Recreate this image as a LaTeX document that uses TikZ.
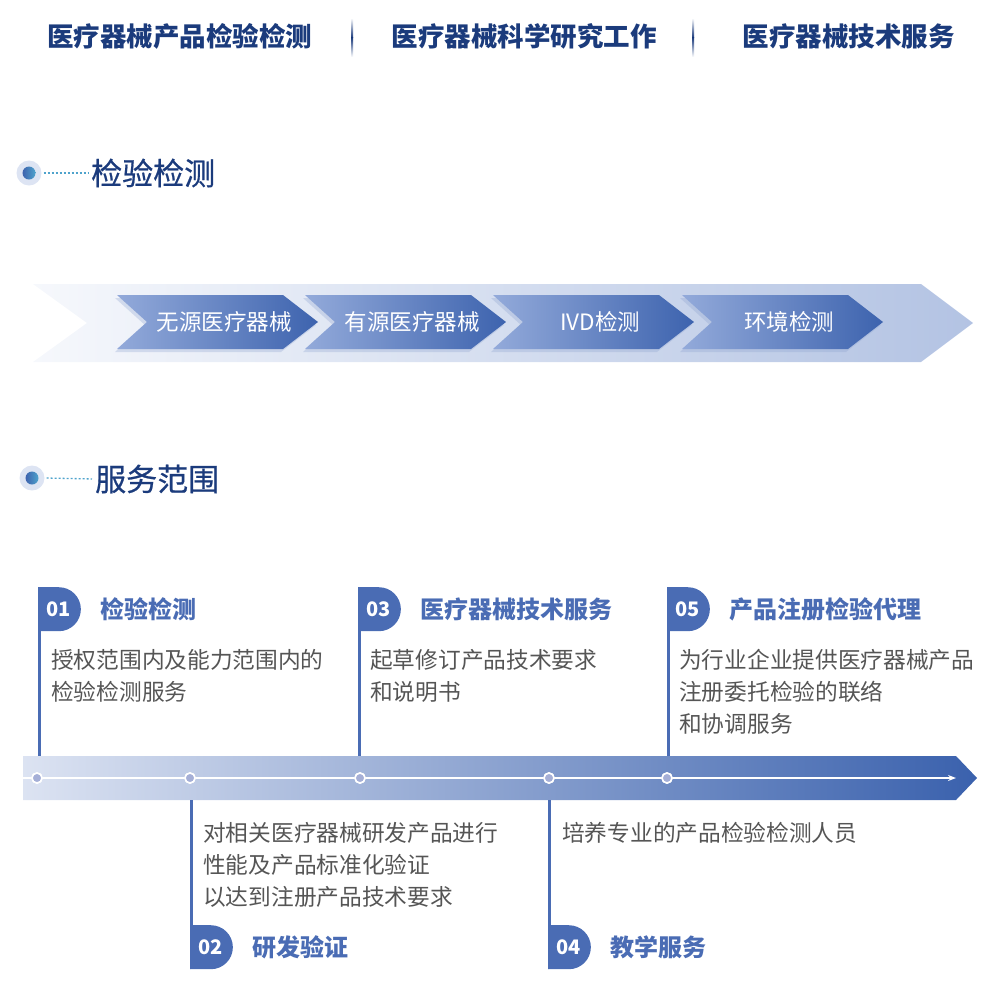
\documentclass[tikz,border=0pt]{standalone}
\usepackage{fontspec}
\setmainfont{Noto Sans CJK SC}
\newfontfamily\medfont{Noto Sans CJK SC}[FakeBold=0.6]
\usepackage{tikz}
\usetikzlibrary{positioning, shapes.misc, shadows, arrows.meta}
\usepackage{xcolor}
\pgfdeclarelayer{bg}
\pgfsetlayers{bg,main}

\definecolor{navy}{HTML}{1B3B7C}
\definecolor{cardblue}{HTML}{4A6CB4}
\definecolor{desc}{HTML}{555555}
\definecolor{chevl}{HTML}{93AADA}
\definecolor{chevr}{HTML}{3D63AE}
\definecolor{bandl}{HTML}{F6F8FC}
\definecolor{bandr}{HTML}{B3C3E3}
\definecolor{linel}{HTML}{DCE3F2}
\definecolor{linem}{HTML}{8E9BCD}
\definecolor{liner}{HTML}{3A61AD}
\definecolor{ringc}{HTML}{DDE4F3}
\definecolor{dotc}{HTML}{4FA3CC}

\begin{document}
\begin{tikzpicture}[x=1pt, y=-1pt,
  headtext/.style={font=\fontsize{26.5}{30}\selectfont\bfseries, text=navy, inner sep=0pt},
  sectitle/.style={font=\fontsize{31}{36}\selectfont\medfont, text=navy, inner sep=0pt, anchor=west},
  chevtext/.style={font=\fontsize{22.5}{26}\selectfont, text=white, inner sep=0pt},
  chev/.style={left color=chevl, right color=chevr, drop shadow={shadow xshift=-2pt, shadow yshift=-3pt, opacity=.3, fill=chevr!60!white}},
  badge/.style={rounded rectangle, rounded rectangle west arc=none, fill=cardblue, text=white, font=\fontsize{20}{24}\selectfont\bfseries, minimum width=42pt, minimum height=44pt, inner sep=0pt, anchor=north west},
  cardtitle/.style={font=\fontsize{24}{28}\selectfont\bfseries, text=cardblue, inner sep=0pt},
  cardtext/.style={font=\fontsize{22.7}{32}\selectfont, text=desc, align=left, inner sep=0pt, anchor=north west},
  stem/.style={draw=cardblue, line width=2.6pt},
  dotline/.style={draw=dotc, line width=1.3pt, dash pattern=on 2pt off 2pt, shorten <=2pt, shorten >=3pt},
  tldot/.style={circle, fill=linem!80!white, draw=white, line width=1.6pt, minimum size=10pt, inner sep=0pt}]
%

\useasboundingbox (0,0) rectangle (1000,986);

%%% HEADER
\node [headtext] (head-1) at (179.5,36) {医疗器械产品检验检测};
\node [headtext] (head-2) at (524,36) {医疗器械科学研究工作};
\node [headtext] (head-3) at (848.5,36) {医疗器械技术服务};
\foreach \x in {352,693}
{
\shade [top color=white, bottom color=navy] (\x-1,18) rectangle (\x+1,37.5);
\shade [top color=navy, bottom color=white] (\x-1,37.5) rectangle (\x+1,57);
}

%%% SECTION: TESTING
\node [circle, fill=ringc, minimum size=25pt, inner sep=0pt] (sec1-ring) at (29,173) {};
\shade [left color=chevr, right color=dotc] (sec1-ring.center) circle (6.5pt);
\node [sectitle] (sec1-title) at (91,173) {检验检测};
\draw [dotline] (sec1-ring.east) -- (sec1-title.west);

%%% CHEVRONS
\path [left color=bandl, right color=bandr] (33,284) -- (921,284) -- (973,323) -- (921,362) -- (33,362) -- (87,323) -- cycle;
\foreach \x/\t [count=\i] in {117/无源医疗器械, 305/有源医疗器械, 493/IVD检测, 682/环境检测}
{
\path [chev] (\x,295) -- ++(166,0) -- ++(35,27) -- ++(-35,27) -- ++(-166,0) -- ++(30,-27) -- cycle;
\node [chevtext] (chev-\i) at (\x+107,322) {\t};
}

%%% SECTION: SCOPE
\node [circle, fill=ringc, minimum size=25pt, inner sep=0pt] (sec2-ring) at (32,478) {};
\shade [left color=chevr, right color=dotc] (sec2-ring.center) circle (6.5pt);
\node [sectitle] (sec2-title) at (95,479) {服务范围};
\draw [dotline] (sec2-ring.east) -- (sec2-title.west);

%%% TIMELINE
\path [left color=linel, middle color=linem, right color=liner] (23,756) -- (956,756) -- (977,778) -- (956,800) -- (23,800) -- cycle;
\coordinate (tl-top) at (0,756);
\coordinate (tl-bot) at (0,800);
\coordinate (tl-start) at (23,778);
\coordinate (tl-end) at (956,778);
\node [tldot] (dot-1) at (37,778) {};
\node [tldot] (dot-2) at (190,778) {};
\node [tldot] (dot-3) at (360,778) {};
\node [tldot] (dot-4) at (549,778) {};
\node [tldot] (dot-5) at (667,778) {};
\draw [white, line width=1.2pt, -{Stealth[length=8pt, width=6pt]}] (tl-start) -- (dot-1) -- (dot-2) -- (dot-3) -- (dot-4) -- (dot-5) -- (tl-end);
\foreach \d in {1,...,5} \node [tldot] at (dot-\d) {};

%%% CARD 01
\node [badge] (badge-1) at (38,587) {01};
\node [cardtitle, right=19pt of badge-1] (title-1) {检验检测};
\node [cardtext] (text-1) at (51,649) {授权范围内及能力范围内的\\检验检测服务};
\draw [stem] ([xshift=1.3pt]badge-1.north west) -- ([xshift=1.3pt]badge-1.north west |- tl-top);

%%% CARD 03
\node [badge] (badge-3) at (358,587) {03};
\node [cardtitle, right=19pt of badge-3] (title-3) {医疗器械技术服务};
\node [cardtext] (text-3) at (370,649) {起草修订产品技术要求\\和说明书};
\draw [stem] ([xshift=1.3pt]badge-3.north west) -- ([xshift=1.3pt]badge-3.north west |- tl-top);

%%% CARD 05
\node [badge] (badge-5) at (667,587) {05};
\node [cardtitle, right=19pt of badge-5] (title-5) {产品注册检验代理};
\node [cardtext] (text-5) at (679,649) {为行业企业提供医疗器械产品\\注册委托检验的联络\\和协调服务};
\draw [stem] ([xshift=1.3pt]badge-5.north west) -- ([xshift=1.3pt]badge-5.north west |- tl-top);

%%% CARD 02
\node [badge] (badge-2) at (190,925) {02};
\node [cardtitle, right=19pt of badge-2] (title-2) {研发验证};
\node [cardtext] (text-2) at (203,822) {对相关医疗器械研发产品进行\\性能及产品标准化验证\\以达到注册产品技术要求};
\draw [stem] ([xshift=1.3pt]badge-2.south west) -- ([xshift=1.3pt]badge-2.south west |- tl-bot);

%%% CARD 04
\node [badge] (badge-4) at (548,925) {04};
\node [cardtitle, right=19pt of badge-4] (title-4) {教学服务};
\node [cardtext] (text-4) at (562,822) {培养专业的产品检验检测人员};
\draw [stem] ([xshift=1.3pt]badge-4.south west) -- ([xshift=1.3pt]badge-4.south west |- tl-bot);

\end{tikzpicture}
\end{document}
